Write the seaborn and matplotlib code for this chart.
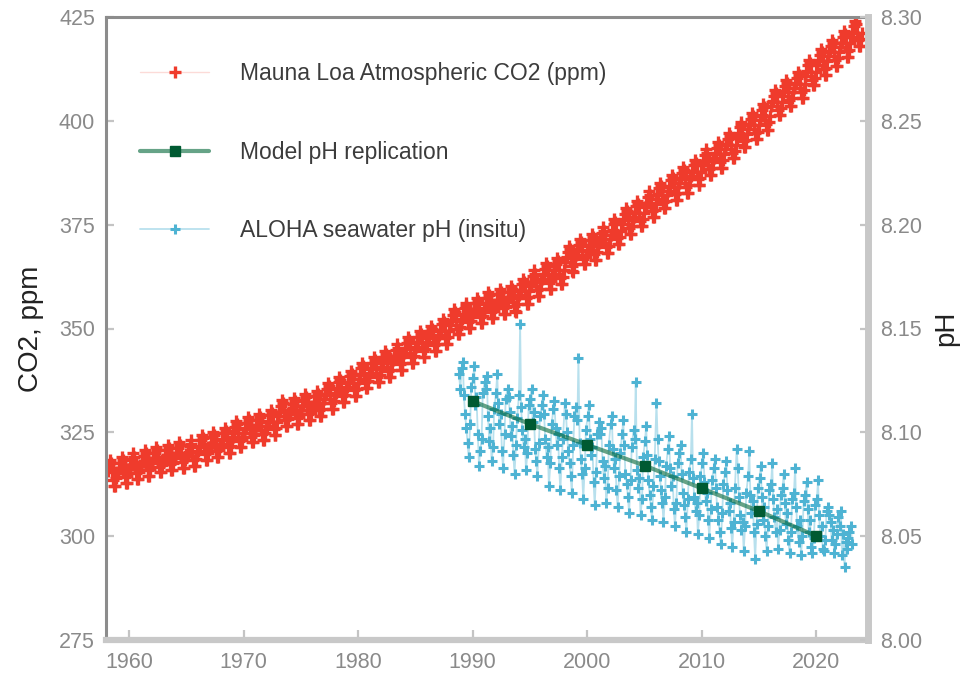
import numpy as np
import pandas as pd
import matplotlib
matplotlib.use("Agg")
import matplotlib.pyplot as plt
import seaborn as sns

# ---------------- data ----------------
co2_years = list(range(1958, 2024))
co2_annual_mean = [
    315.30, 315.98, 316.91, 317.64, 318.45, 318.99, 319.62, 320.04, 321.37, 322.18,
    323.05, 324.62, 325.68, 326.32, 327.46, 329.68, 330.19, 331.13, 332.03, 333.84,
    335.41, 336.84, 338.76, 340.12, 341.48, 343.15, 344.87, 346.35, 347.61, 349.31,
    351.69, 353.20, 354.45, 355.70, 356.54, 357.21, 358.96, 360.97, 362.74, 363.88,
    366.84, 368.54, 369.71, 371.32, 373.45, 375.98, 377.70, 379.98, 382.09, 384.02,
    385.83, 387.64, 390.10, 391.85, 394.06, 396.74, 398.81, 401.01, 404.41, 406.76,
    408.72, 411.65, 414.21, 416.41, 418.53, 421.08,
]
# monthly departure from the annual mean (Jan..Dec)
co2_seasonal = [-0.82, 0.10, 0.32, 1.68, 3.01, 2.27, 0.12, -1.70, -3.11, -3.12, -1.38, 0.11]
co2_first_month = 3  # record begins March 1958

model_years = [1990, 1995, 2000, 2005, 2010, 2015, 2020]
model_ph = [8.115, 8.104, 8.094, 8.084, 8.073, 8.062, 8.050]

aloha_sample_frac = [0.04, 0.14, 0.23, 0.33, 0.45, 0.55, 0.65, 0.78, 0.88]
aloha_partial_frac = {1988: [0.80, 0.92], 2023: [0.02, 0.10]}
aloha_ph_by_year = {
    1988: [8.128, 8.121],
    1989: [8.131, 8.134, 8.118, 8.109, 8.102, 8.095, 8.088, 8.104, 8.122],
    1990: [8.126, 8.132, 8.113, 8.117, 8.099, 8.084, 8.091, 8.097, 8.119],
    1991: [8.124, 8.121, 8.127, 8.108, 8.096, 8.102, 8.086, 8.093, 8.111],
    1992: [8.119, 8.128, 8.114, 8.104, 8.109, 8.091, 8.083, 8.099, 8.116],
    1993: [8.121, 8.117, 8.110, 8.098, 8.103, 8.089, 8.080, 8.094, 8.107],
    1994: [8.118, 8.152, 8.112, 8.101, 8.093, 8.097, 8.082, 8.090, 8.113],
    1995: [8.116, 8.121, 8.105, 8.110, 8.092, 8.086, 8.079, 8.095, 8.108],
    1996: [8.113, 8.118, 8.109, 8.097, 8.088, 8.093, 8.074, 8.085, 8.104],
    1997: [8.111, 8.115, 8.102, 8.094, 8.099, 8.083, 8.072, 8.088, 8.097],
    1998: [8.114, 8.109, 8.100, 8.091, 8.085, 8.079, 8.071, 8.094, 8.108],
    1999: [8.112, 8.106, 8.136, 8.095, 8.087, 8.080, 8.068, 8.083, 8.101],
    2000: [8.108, 8.113, 8.097, 8.089, 8.093, 8.076, 8.065, 8.081, 8.099],
    2001: [8.105, 8.099, 8.102, 8.086, 8.078, 8.084, 8.066, 8.073, 8.094],
    2002: [8.104, 8.108, 8.092, 8.083, 8.087, 8.072, 8.064, 8.079, 8.090],
    2003: [8.099, 8.106, 8.094, 8.080, 8.075, 8.069, 8.061, 8.077, 8.093],
    2004: [8.101, 8.097, 8.124, 8.082, 8.073, 8.078, 8.060, 8.068, 8.088],
    2005: [8.096, 8.103, 8.089, 8.077, 8.070, 8.064, 8.058, 8.074, 8.087],
    2006: [8.114, 8.097, 8.086, 8.079, 8.072, 8.066, 8.057, 8.069, 8.084],
    2007: [8.092, 8.098, 8.083, 8.074, 8.079, 8.063, 8.055, 8.066, 8.085],
    2008: [8.090, 8.094, 8.080, 8.071, 8.065, 8.059, 8.052, 8.068, 8.081],
    2009: [8.087, 8.109, 8.078, 8.069, 8.062, 8.066, 8.051, 8.060, 8.079],
    2010: [8.085, 8.090, 8.076, 8.067, 8.071, 8.058, 8.049, 8.063, 8.077],
    2011: [8.083, 8.087, 8.073, 8.064, 8.058, 8.052, 8.046, 8.061, 8.075],
    2012: [8.081, 8.086, 8.072, 8.062, 8.066, 8.054, 8.045, 8.057, 8.073],
    2013: [8.092, 8.083, 8.069, 8.060, 8.053, 8.057, 8.043, 8.055, 8.071],
    2014: [8.079, 8.091, 8.070, 8.061, 8.067, 8.052, 8.039, 8.056, 8.073],
    2015: [8.078, 8.084, 8.069, 8.058, 8.064, 8.050, 8.043, 8.055, 8.072],
    2016: [8.075, 8.085, 8.068, 8.059, 8.052, 8.063, 8.044, 8.053, 8.070],
    2017: [8.073, 8.080, 8.066, 8.056, 8.061, 8.048, 8.042, 8.052, 8.068],
    2018: [8.071, 8.083, 8.064, 8.055, 8.047, 8.058, 8.041, 8.050, 8.067],
    2019: [8.070, 8.076, 8.063, 8.052, 8.058, 8.045, 8.042, 8.049, 8.065],
    2020: [8.068, 8.077, 8.060, 8.050, 8.055, 8.044, 8.043, 8.048, 8.062],
    2021: [8.064, 8.060, 8.057, 8.048, 8.053, 8.042, 8.046, 8.051, 8.059],
    2022: [8.055, 8.062, 8.041, 8.051, 8.035, 8.047, 8.044, 8.049, 8.052],
    2023: [8.055, 8.046],
}

label_co2 = "Mauna Loa Atmospheric CO2 (ppm)"
label_model = "Model pH replication"
label_aloha = "ALOHA seawater pH (insitu)"
x_ticks = [1960, 1970, 1980, 1990, 2000, 2010, 2020]
co2_ticks = [275, 300, 325, 350, 375, 400, 425]
ph_ticks = [8.00, 8.05, 8.10, 8.15, 8.20, 8.25, 8.30]

# ---------------- tables ----------------
co2_rows = []
for yr, mean in zip(co2_years, co2_annual_mean):
    for m in range(1, 13):
        if yr == co2_years[0] and m < co2_first_month:
            continue
        co2_rows.append((yr + (m - 0.5) / 12.0, mean + co2_seasonal[m - 1]))
co2_df = pd.DataFrame(co2_rows, columns=["year", "co2"])

aloha_rows = []
for yr, vals in aloha_ph_by_year.items():
    fracs = aloha_partial_frac.get(yr, aloha_sample_frac)
    for f, v in zip(fracs, vals):
        aloha_rows.append((yr + f, v))
aloha_df = pd.DataFrame(aloha_rows, columns=["year", "ph"])
model_df = pd.DataFrame({"year": model_years, "ph": model_ph})

# ---------------- style ----------------
sns.set_theme(style="white")
plt.rcParams["font.family"] = ["Liberation Sans", "DejaVu Sans"]

RED = "#EF3B2C"
BLUE = "#4EB3D3"
GREEN = "#005A32"

fig = plt.figure(figsize=(9.63, 6.74), dpi=100)
ax = fig.add_axes([106 / 963, 1 - 640 / 674, (868 - 106) / 963, (640 - 17) / 674])
ax2 = ax.twinx()

sns.lineplot(data=co2_df, x="year", y="co2", ax=ax, estimator=None, sort=False,
             color=(0.937, 0.231, 0.173, 0.18), linewidth=1.0,
             marker="+", markersize=8, markeredgecolor=RED, markeredgewidth=2.4,
             label=label_co2, legend=False)

sns.lineplot(data=aloha_df, x="year", y="ph", ax=ax2, estimator=None, sort=False,
             color=(0.306, 0.702, 0.827, 0.4), linewidth=1.3,
             marker="+", markersize=7, markeredgecolor=BLUE, markeredgewidth=2.2,
             label=label_aloha, legend=False, zorder=2)

sns.lineplot(data=model_df, x="year", y="ph", ax=ax2, estimator=None, sort=False,
             color=(0.0, 0.40, 0.22, 0.6), linewidth=3.0,
             marker="s", markersize=6.5, markeredgecolor=GREEN, markerfacecolor=GREEN,
             markeredgewidth=1.0, label=label_model, legend=False, zorder=3)

ax.set_xlim(1958.0, 2024.5)
ax.set_ylim(275, 425)
ax2.set_ylim(8.00, 8.30)
ax.set_xticks(x_ticks)
ax.set_yticks(co2_ticks)
ax2.set_yticks(ph_ticks)
ax2.set_yticklabels([f"{v:.2f}" for v in ph_ticks])
ax.set_xlabel("")

TICKC = "#c4c4c4"
LABC = "#8a8a8a"
ax.tick_params(axis="x", direction="in", length=7, width=1.6, color=TICKC,
               labelcolor=LABC, labelsize=15.5, pad=9, bottom=True, top=False)
ax.tick_params(axis="y", direction="in", length=6, width=1.6, color=TICKC,
               labelcolor=LABC, labelsize=15.5, pad=8, left=True, right=False)
ax2.tick_params(axis="y", direction="in", length=6, width=1.6, color=TICKC,
                labelcolor=LABC, labelsize=15.5, pad=9, right=True, left=False)

for s in ["left", "top"]:
    ax.spines[s].set_color("#8c8c8c")
    ax.spines[s].set_linewidth(2.2)
ax.spines["bottom"].set_color("#c8c8c8")
ax.spines["bottom"].set_linewidth(4.5)
ax.spines["right"].set_visible(False)
for s in ["left", "top", "bottom"]:
    ax2.spines[s].set_visible(False)
ax2.spines["right"].set_color("#c8c8c8")
ax2.spines["right"].set_linewidth(5.0)

ax.set_ylabel("CO2, ppm", fontsize=20, color="#222222")
ax.yaxis.set_label_coords(-0.0814, 0.5)
ax2.set_ylabel("pH", fontsize=20, color="#222222")
ax2.yaxis.set_label_coords(1.086, 0.5)

h1, l1 = ax.get_legend_handles_labels()
h2, l2 = ax2.get_legend_handles_labels()
hd = dict(zip(l1 + l2, h1 + h2))
order = [label_co2, label_model, label_aloha]
leg = ax2.legend([hd[k] for k in order], order, loc="upper left",
                 bbox_to_anchor=(0.033, 0.942), borderaxespad=0, frameon=False,
                 fontsize=16.5, labelspacing=2.42, handlelength=3.0,
                 handletextpad=1.35, numpoints=1)
for t in leg.get_texts():
    t.set_color("#3c3c3c")

fig.savefig("out.png", dpi=100)
